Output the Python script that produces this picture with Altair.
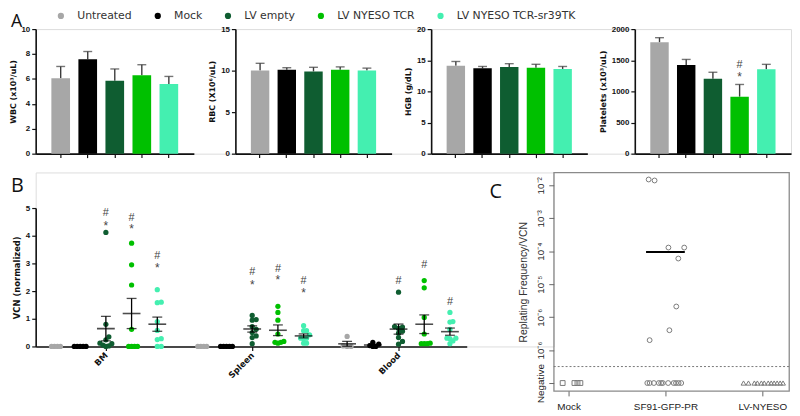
import altair as alt
import pandas as pd

# ---------------- data ----------------
GROUPS = ["Untreated", "Mock", "LV empty", "LV NYESO TCR", "LV NYESO TCR-sr39TK"]
COLORS = ["#a7a7a7", "#000000", "#0f5d31", "#00c000", "#44efb0"]

WBC_MEAN = [6.05, 7.57, 5.85, 6.30, 5.60]
WBC_SEM = [0.95, 0.63, 0.95, 0.84, 0.60]
RBC_MEAN = [10.0, 10.1, 9.9, 10.1, 10.0]
RBC_SEM = [0.88, 0.25, 0.50, 0.35, 0.30]
HGB_MEAN = [14.1, 13.7, 13.9, 13.8, 13.6]
HGB_SEM = [0.70, 0.30, 0.55, 0.55, 0.40]
PLT_MEAN = [1788, 1423, 1201, 915, 1354]
PLT_SEM = [74, 90, 106, 196, 80]
PLT_HASH = [None, None, None, 1417, None]
PLT_STAR = [None, None, None, 1270, None]

TISSUES = ["BM", "Spleen", "Blood"]
VCN_BM = [
    [0, 0, 0, 0],
    [0, 0, 0, 0, 0],
    [4.12, 0.80, 0.35, 0.24, 0.12, 0.10, 0.05, 0.02, 0.0],
    [3.73, 2.95, 2.22, 0.62, 0, 0, 0, 0],
    [2.05, 1.60, 1.58, 0.90, 0.58, 0.28, 0.25, 0, 0],
]
VCN_SPLEEN = [
    [0, 0, 0, 0],
    [0, 0, 0, 0, 0],
    [1.12, 0.97, 0.95, 0.72, 0.62, 0.50, 0.38, 0.32, 0.10],
    [1.45, 1.23, 0.95, 0.45, 0.15, 0.12, 0.15, 0.18],
    [0.75, 0.57, 0.57, 0.42, 0.30, 0.30, 0.28, 0.12, 0.12],
]
VCN_BLOOD = [
    [0.36, 0.02, 0, 0],
    [0.15, 0.08, 0.03, 0.0, 0.0],
    [1.96, 0.72, 0.70, 0.65, 0.55, 0.48, 0.32, 0.18, 0.08],
    [2.38, 2.12, 1.05, 0.45, 0.10, 0.10, 0.10, 0.12],
    [1.23, 0.90, 0.88, 0.62, 0.30, 0.30, 0.28, 0.20, 0.10],
]
HASH_BM = [None, None, 4.82, 4.64, 3.25]
STAR_BM = [None, None, 4.46, 4.35, 2.95]
HASH_SPLEEN = [None, None, 2.68, 2.80, 2.35]
STAR_SPLEEN = [None, None, 2.32, 2.50, 2.02]
HASH_BLOOD = [None, None, 2.35, 2.94, 1.60]
STAR_BLOOD = [None, None, None, None, None]

C_GROUPS = ["Mock", "SF91-GFP-PR", "LV-NYESO"]
NEGATIVE = 1e-8          # axis position used for "Negative" samples
NEG_CUTOFF = 10 ** -7.5  # dotted detection limit
MOCK_NEG_X = [0.939, 1.061, 1.092, 1.122]
SF91_POS_X = [1.827, 1.888, 2.031, 2.194, 2.133, 2.112, 2.041, 1.837]
SF91_POS_Y = [0.015, 0.014, 1.29e-4, 1.29e-4, 6.0e-5, 2.1e-6, 4.0e-7, 2.0e-7]
SF91_NEG_X = [1.813, 1.837, 1.881, 1.932, 1.956, 1.973, 2.028, 2.085, 2.109, 2.136, 2.163]
LVNY_NEG_X = [2.806, 2.857, 2.918, 2.949, 2.990, 3.020, 3.061, 3.092, 3.122, 3.153, 3.184, 3.214]
C_YTICKS = [1e-8, 1e-7, 1e-6, 1e-5, 1e-4, 1e-3, 1e-2]
C_YLABELS = ["Negative", "10⁻⁶", "10⁻⁶", "10⁻⁵", "10⁻⁴", "10⁻³", "10⁻²"]

# ---------------- styling helpers ----------------
CSCALE = alt.Scale(domain=GROUPS, range=COLORS)
LEGEND = alt.Legend(orient="none", legendX=20, legendY=-19, direction="horizontal",
                    title=None, symbolType="circle", symbolSize=40, symbolStrokeWidth=0,
                    labelFont="DejaVu Sans", labelFontSize=11, labelColor="#333",
                    labelOffset=11, columnPadding=20, symbolOpacity=1)
AXBASE = dict(labelFont="Liberation Sans", labelFontWeight="bold", labelFontSize=8,
              labelColor="#111", tickColor="#111", tickWidth=1.2, tickSize=4,
              domainColor="#111", domainWidth=1.6, grid=False)
TITLEBASE = dict(titleFont="DejaVu Sans", titleFontWeight="bold", titleFontSize=8,
                 titleColor="#111")
ERRC = "#3c3c3c"


def mark_texts(df, x, y):
    """'#' and '*' significance marks; the star sits slightly lower like the original."""
    hashes = alt.Chart(df).transform_filter("datum.t == '#'").mark_text(
        font="Liberation Sans", fontSize=11, color="#444", baseline="middle").encode(
        x=x, y=y, text="t:N")
    stars = alt.Chart(df).transform_filter("datum.t == '*'").mark_text(
        font="Liberation Sans", fontSize=12, color="#444", baseline="middle", dy=3).encode(
        x=x, y=y, text="t:N")
    return [hashes, stars]


def bar_panel(ytitle, means, sems, ymax, yticks, view_w, range_w,
              hash_v=None, star_v=None, title=None):
    df = pd.DataFrame({"group": GROUPS, "mean": means,
                       "upper": [m + s for m, s in zip(means, sems)]})
    xenc = alt.X("group:N", sort=GROUPS,
                 scale=alt.Scale(domain=GROUPS, range=[0, range_w],
                                 paddingInner=0.31, paddingOuter=0.58),
                 axis=alt.Axis(title=None, labels=False, **AXBASE))
    ysc = alt.Scale(domain=[0, ymax], nice=False)
    yax = alt.Axis(values=yticks, format="d", title=ytitle, **AXBASE, **TITLEBASE)
    base = alt.Chart(df)
    err = base.mark_rule(color=ERRC, strokeWidth=1.4).encode(
        x=xenc, y=alt.Y("mean:Q", scale=ysc, axis=yax), y2="upper:Q")
    bars = base.mark_bar().encode(
        x=xenc, y=alt.Y("mean:Q", scale=ysc, axis=yax),
        color=alt.Color("group:N", scale=CSCALE, legend=LEGEND))
    caps = base.mark_tick(color=ERRC, size=9, thickness=1.4).encode(
        x=xenc, y=alt.Y("upper:Q", scale=ysc, axis=yax))
    layers = [err, bars, caps]
    if hash_v is not None:
        rows = []
        for g, h, s in zip(GROUPS, hash_v, star_v):
            if h is not None:
                rows.append({"group": g, "y": h, "t": "#"})
            if s is not None:
                rows.append({"group": g, "y": s, "t": "*"})
        tdf = pd.DataFrame(rows)
        layers += mark_texts(tdf, xenc, alt.Y("y:Q", scale=ysc, axis=yax))
    ch = alt.layer(*layers).properties(width=view_w, height=126)
    if title is not None:
        ch = ch.properties(title=title)
    return ch


def letter(t, dx, dy, size=20):
    return alt.TitleParams(t, anchor="start", frame="group", dx=dx, dy=dy, offset=2,
                           baseline="top", font="Open Sans", fontSize=size,
                           fontWeight="normal", color="#111")


A1 = bar_panel("WBC (x10³/uL)", WBC_MEAN, WBC_SEM, 10, [0, 2, 4, 6, 8, 10], 202, 160,
               title=letter("A", -25, 8, 18))
A2 = bar_panel("RBC (X10⁶/uL)", RBC_MEAN, RBC_SEM, 15, [0, 5, 10, 15], 198, 158)
A3 = bar_panel("HGB (g/dL)", HGB_MEAN, HGB_SEM, 20, [0, 5, 10, 15, 20], 206, 158)
A4 = bar_panel("Platelets (x10³/uL)", PLT_MEAN, PLT_SEM, 2000, [0, 500, 1000, 1500, 2000],
               158, 158, hash_v=PLT_HASH, star_v=PLT_STAR)

# ---------------- panel B ----------------
UNIT_PX = 26.0
PX_PER_VCN = 28.0
TISSUE_STEP = 5.6923


def swarm_offsets(vals, dist=4.0, step=2.0, maxw=6.0):
    order = sorted(range(len(vals)), key=lambda i: vals[i])
    placed, offs = [], [0.0] * len(vals)
    cands = [0.0]
    for j in range(1, 60):
        cands += [j * step, -j * step]
    for i in order:
        y = vals[i] * PX_PER_VCN
        for c in cands:
            if all((c - px) ** 2 + (y - py) ** 2 >= dist ** 2 for px, py in placed):
                break
        placed.append((c, y))
        offs[i] = c
    m = max(abs(o) for o in offs) if offs else 0
    if m > maxw:
        offs = [o * maxw / m for o in offs]
    return offs


pts, ann = [], []
for t, (tissue, groups, hs, ss) in enumerate(zip(
        TISSUES, [VCN_BM, VCN_SPLEEN, VCN_BLOOD],
        [HASH_BM, HASH_SPLEEN, HASH_BLOOD], [STAR_BM, STAR_SPLEEN, STAR_BLOOD])):
    for g, vals in enumerate(groups):
        xc = t * TISSUE_STEP + g
        for v, o in zip(vals, swarm_offsets(vals)):
            pts.append({"tissue": tissue, "group": GROUPS[g], "xc": xc,
                        "x": xc + o / UNIT_PX, "v": v})
        if hs[g] is not None:
            ann.append({"xc": xc, "y": hs[g], "t": "#"})
        if ss[g] is not None:
            ann.append({"xc": xc, "y": ss[g], "t": "*"})
pdf = pd.DataFrame(pts)
adf = pd.DataFrame(ann)

bx_dom = [-0.731, -0.731 + 436 / UNIT_PX]
bxs = alt.Scale(domain=bx_dom, range=[0, 436], nice=False, zero=False)
tcent = [t * TISSUE_STEP + 2 for t in range(3)]
lab_expr = "datum.value < 4 ? '%s' : datum.value < 10 ? '%s' : '%s'" % tuple(TISSUES)
bxax = alt.Axis(values=tcent, labelExpr=lab_expr, title=None, labelAngle=-45,
                labelAlign="right", labelBaseline="middle", labelPadding=3,
                **{**AXBASE, "labelFont": "DejaVu Sans", "labelFontSize": 8.5})
bys = alt.Scale(domain=[0, 5], range=[176, 36], nice=False)
byax = alt.Axis(values=[0, 1, 2, 3, 4, 5], title="VCN (normalized)", **AXBASE,
                **{**TITLEBASE, "titleFontSize": 8.5})

bpts = alt.Chart(pdf).mark_circle(size=28, opacity=1).encode(
    x=alt.X("x:Q", scale=bxs, axis=bxax),
    y=alt.Y("v:Q", scale=bys, axis=byax),
    color=alt.Color("group:N", scale=CSCALE, legend=LEGEND))
stats = alt.Chart(pdf).transform_aggregate(
    m="mean(v)", se="stderr(v)", groupby=["xc"]
).transform_filter("datum.m > 0.001").transform_calculate(
    lo="datum.m - datum.se", hi="datum.m + datum.se")
bmean = stats.mark_tick(orient="horizontal", size=18, thickness=1.6, color="black").encode(
    x=alt.X("xc:Q", scale=bxs, axis=bxax), y=alt.Y("m:Q", scale=bys, axis=byax))
bsem = stats.mark_rule(strokeWidth=1.3, color="black").encode(
    x=alt.X("xc:Q", scale=bxs, axis=bxax), y=alt.Y("lo:Q", scale=bys, axis=byax), y2="hi:Q")
bcap_hi = stats.mark_tick(orient="horizontal", size=10, thickness=1.3, color="black").encode(
    x=alt.X("xc:Q", scale=bxs, axis=bxax), y=alt.Y("hi:Q", scale=bys, axis=byax))
bcap_lo = stats.mark_tick(orient="horizontal", size=10, thickness=1.3, color="black").encode(
    x=alt.X("xc:Q", scale=bxs, axis=bxax), y=alt.Y("lo:Q", scale=bys, axis=byax))
btxt = mark_texts(adf, alt.X("xc:Q", scale=bxs, axis=bxax),
                  alt.Y("y:Q", scale=bys, axis=byax))
B = alt.layer(bpts, bmean, bsem, bcap_hi, bcap_lo, *btxt).properties(
    width=524, height=176, title=letter("B", -25, 26))

# ---------------- panel C ----------------
crow = []
for x in MOCK_NEG_X:
    crow.append({"g": C_GROUPS[0], "x": x, "y": NEGATIVE})
for x, y in zip(SF91_POS_X, SF91_POS_Y):
    crow.append({"g": C_GROUPS[1], "x": x, "y": y})
for x in SF91_NEG_X:
    crow.append({"g": C_GROUPS[1], "x": x, "y": NEGATIVE})
for x in LVNY_NEG_X:
    crow.append({"g": C_GROUPS[2], "x": x, "y": NEGATIVE})
cdf = pd.DataFrame(crow)
cdf["pos"] = cdf["g"].map({g: i + 1 for i, g in enumerate(C_GROUPS)})

cxs = alt.Scale(domain=[0.847, 3.276], nice=False, zero=False)
cys = alt.Scale(type="log", domain=[10 ** -8.24, 10 ** -1.61], nice=False)
cx_expr = "[%s][round(datum.value) - 1]" % ",".join("'%s'" % g for g in C_GROUPS)
cy_expr = "[%s][round(log(datum.value) / LN10) + 8]" % ",".join("'%s'" % l for l in C_YLABELS)
CAX = dict(labelFont="Liberation Sans", labelFontSize=10, labelColor="#222",
           tickColor="#666", tickSize=5, tickWidth=1, domain=False, grid=False)
cxax = alt.Axis(values=[1, 2, 3], labelExpr=cx_expr, title=None, labelPadding=6, **CAX)
cyax = alt.Axis(values=C_YTICKS, labelExpr=cy_expr, labelAngle=270, labelAlign="center",
                labelBaseline="bottom", labelPadding=3,
                title="Replating Frequency/VCN", titleFont="Liberation Sans",
                titleFontSize=10.5, titleFontWeight="normal", titleColor="#333",
                titlePadding=8, **CAX)

cpts = alt.Chart(cdf).mark_point(filled=False, color="#7a7a7a", size=24, strokeWidth=1,
                                 opacity=1).encode(
    x=alt.X("x:Q", scale=cxs, axis=cxax),
    y=alt.Y("y:Q", scale=cys, axis=cyax),
    shape=alt.Shape("g:N", scale=alt.Scale(domain=C_GROUPS,
                                           range=["square", "circle", "triangle-up"]),
                    legend=None))
cline = alt.Chart(pd.DataFrame({"y": [NEG_CUTOFF]})).mark_rule(
    strokeDash=[2, 2], color="#777", strokeWidth=1).encode(
    y=alt.Y("y:Q", scale=cys, axis=cyax))
cmed = alt.Chart(cdf).transform_filter(
    "datum.y > %g" % NEG_CUTOFF).transform_filter("datum.pos == 2").transform_aggregate(
    med="median(y)", groupby=["pos"]).transform_calculate(
    x1="datum.pos - 0.2", x2="datum.pos + 0.2").mark_rule(
    color="black", strokeWidth=2).encode(
    x=alt.X("x1:Q", scale=cxs, axis=cxax), x2="x2:Q",
    y=alt.Y("med:Q", scale=cys, axis=cyax))
C = alt.layer(cline, cpts, cmed).properties(
    width=238, height=221, title=letter("C", -65, 32),
    view=alt.ViewBackground(stroke="#8a8a8a", strokeWidth=1.3))

rowA = alt.hconcat(A1, A2, A3, A4, spacing=0, bounds="flush")
rowB = alt.hconcat(B, C, spacing=0, bounds="flush")
chart = alt.vconcat(rowA, rowB, spacing=12).properties(
    padding=0).configure_view(stroke=None).configure(background="white")

chart.save("out.html", embed_options={"renderer": "svg", "actions": False})
